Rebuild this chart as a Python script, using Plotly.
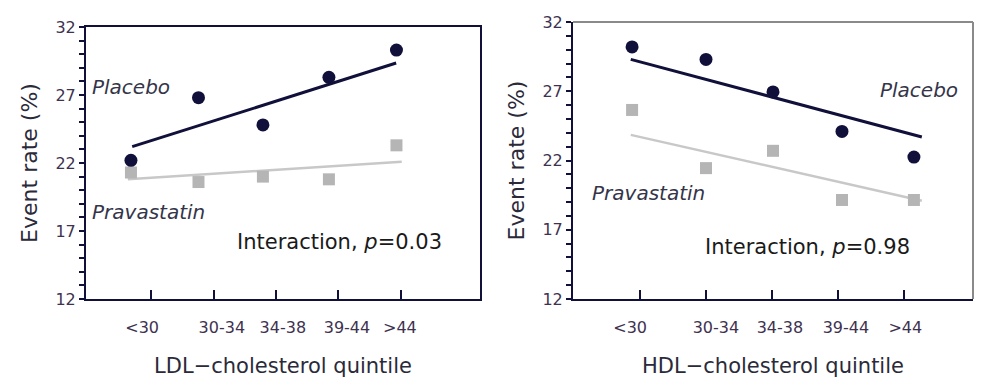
import plotly.graph_objects as go

# ---------------- data ----------------
quintiles = ["<30", "30-34", "34-38", "39-44", ">44"]
quintile_ticks = [1, 2, 3, 4, 5]

# LDL panel
ldl_x = [0.67, 1.755, 2.79, 3.85, 4.935]
ldl_placebo = [22.2, 26.8, 24.8, 28.3, 30.3]
ldl_prava = [21.3, 20.6, 21.0, 20.8, 23.3]
ldl_placebo_fit_x = [0.69, 4.93]
ldl_placebo_fit_y = [23.2, 29.35]
ldl_prava_fit_x = [0.62, 5.02]
ldl_prava_fit_y = [20.8, 22.1]
ldl_label_x = [0.85, 2.13, 3.11, 4.14, 4.99]

# HDL panel
hdl_x = [0.88, 2.0, 3.015, 4.06, 5.15]
hdl_placebo = [30.2, 29.3, 26.95, 24.1, 22.25]
hdl_prava = [25.65, 21.45, 22.7, 19.15, 19.15]
hdl_fit_x = [0.86, 5.27]
hdl_placebo_fit_y = [29.3, 23.7]
hdl_prava_fit_y = [23.85, 19.1]
hdl_label_x = [0.85, 2.15, 3.12, 4.12, 5.02]

y_ticks = [12, 17, 22, 27, 32]

# ---------------- style ----------------
NAVY = "#10103a"
GRAY_MARK = "#b5b5b5"
GRAY_LINE = "#c8c8c8"
TEXT = "#2a2a3a"
TICKTXT = "#3e3250"
FONT = "DejaVu Sans"
W, H = 997, 391

def px(x):
    return x / W

def py(y):
    return 1 - y / H

fig = go.Figure()

# LDL traces
fig.add_trace(go.Scatter(x=ldl_placebo_fit_x, y=ldl_placebo_fit_y, mode="lines",
                         line=dict(color=NAVY, width=3), xaxis="x", yaxis="y", showlegend=False))
fig.add_trace(go.Scatter(x=ldl_prava_fit_x, y=ldl_prava_fit_y, mode="lines",
                         line=dict(color=GRAY_LINE, width=2.5), xaxis="x", yaxis="y", showlegend=False))
fig.add_trace(go.Scatter(x=ldl_x, y=ldl_prava, mode="markers",
                         marker=dict(symbol="square", size=12, color=GRAY_MARK),
                         xaxis="x", yaxis="y", name="Pravastatin", showlegend=False))
fig.add_trace(go.Scatter(x=ldl_x, y=ldl_placebo, mode="markers",
                         marker=dict(symbol="circle", size=13, color=NAVY),
                         xaxis="x", yaxis="y", name="Placebo", showlegend=False))

# HDL traces
fig.add_trace(go.Scatter(x=hdl_fit_x, y=hdl_placebo_fit_y, mode="lines",
                         line=dict(color=NAVY, width=3), xaxis="x2", yaxis="y2", showlegend=False))
fig.add_trace(go.Scatter(x=hdl_fit_x, y=hdl_prava_fit_y, mode="lines",
                         line=dict(color=GRAY_LINE, width=2.5), xaxis="x2", yaxis="y2", showlegend=False))
fig.add_trace(go.Scatter(x=hdl_x, y=hdl_prava, mode="markers",
                         marker=dict(symbol="square", size=12, color=GRAY_MARK),
                         xaxis="x2", yaxis="y2", name="Pravastatin", showlegend=False))
fig.add_trace(go.Scatter(x=hdl_x, y=hdl_placebo, mode="markers",
                         marker=dict(symbol="circle", size=13, color=NAVY),
                         xaxis="x2", yaxis="y2", name="Placebo", showlegend=False))

# invisible carriers so the label axes get drawn
fig.add_trace(go.Scatter(x=ldl_label_x, y=[None] * 5, mode="markers", marker=dict(opacity=0),
                         xaxis="x3", yaxis="y", hoverinfo="skip", showlegend=False))
fig.add_trace(go.Scatter(x=hdl_label_x, y=[None] * 5, mode="markers", marker=dict(opacity=0),
                         xaxis="x4", yaxis="y2", hoverinfo="skip", showlegend=False))

L_DOM = [px(86), px(480)]
R_DOM = [px(573), px(973)]
L_Y = [py(299), py(27)]
R_Y = [py(299), py(22)]
L_RANGE = [-0.052, 6.277]
R_RANGE = [-0.015, 6.045]

def xaxis_ticks(domain, rng, anchor, mirror):
    return dict(domain=domain, range=rng, anchor=anchor, showgrid=False, zeroline=False,
                showline=True, linecolor=NAVY, linewidth=2, mirror=mirror,
                tickmode="array", tickvals=quintile_ticks, ticktext=["" for _ in quintile_ticks],
                ticks="inside", ticklen=9, tickwidth=2, tickcolor=NAVY, fixedrange=True)

def xaxis_labels(domain, rng, anchor, overlay, labels_x, title):
    return dict(domain=domain, range=rng, anchor=anchor, overlaying=overlay, side="bottom",
                showgrid=False, zeroline=False, showline=False, tickmode="array", tickvals=labels_x,
                ticktext=quintiles, ticks="", ticklabelstandoff=17,
                tickfont=dict(family=FONT, size=16, color=TICKTXT),
                title=dict(text=title, font=dict(family=FONT, size=21, color=TEXT), standoff=22),
                fixedrange=True)

def yaxis(domain, anchor, mirror):
    return dict(domain=domain, range=[12, 32], anchor=anchor, showgrid=False, zeroline=False,
                showline=True, linecolor=NAVY, linewidth=2, mirror=mirror,
                tickmode="array", tickvals=y_ticks, ticks="outside", ticklen=5, tickwidth=2,
                tickcolor=NAVY, tickfont=dict(family=FONT, size=16, color=TICKTXT),
                minor=dict(dtick=1, tick0=12, ticks="outside", ticklen=5, tickwidth=2, tickcolor=NAVY),
                title=dict(text="Event rate (%)", font=dict(family=FONT, size=22, color=TEXT), standoff=12),
                fixedrange=True)

fig.update_layout(
    width=W, height=H,
    margin=dict(l=0, r=0, t=0, b=0, autoexpand=False),
    paper_bgcolor="white", plot_bgcolor="white",
    showlegend=False,
    xaxis=xaxis_ticks(L_DOM, L_RANGE, "y", True),
    yaxis=yaxis(L_Y, "x", True),
    xaxis2=xaxis_ticks(R_DOM, R_RANGE, "y2", False),
    yaxis2=yaxis(R_Y, "x2", False),
    xaxis3=xaxis_labels(L_DOM, L_RANGE, "y", "x", ldl_label_x, "LDL\u2212cholesterol quintile"),
    xaxis4=xaxis_labels(R_DOM, R_RANGE, "y2", "x2", hdl_label_x, "HDL\u2212cholesterol quintile"),
)

# gray top/right border on right panel
fig.add_shape(type="line", xref="paper", yref="paper", x0=R_DOM[0], x1=R_DOM[1], y0=R_Y[1], y1=R_Y[1],
              line=dict(color="#8a8a8a", width=2))
fig.add_shape(type="line", xref="paper", yref="paper", x0=R_DOM[1], x1=R_DOM[1], y0=R_Y[0], y1=R_Y[1],
              line=dict(color="#8a8a8a", width=2))

def note(text, x, y, size=20, italic=False, color=TEXT):
    fig.add_annotation(text=text, x=px(x), y=py(y), xref="paper", yref="paper",
                       xanchor="left", yanchor="middle", showarrow=False,
                       font=dict(family=FONT, size=size, color=color,
                                 style="italic" if italic else "normal"))

note("Placebo", 90, 87, size=20, italic=True, color="#35354a")
note("Pravastatin", 90, 212, size=20, italic=True, color="#35354a")
note("Interaction, <i>p</i>=0.03", 235, 242, size=21, color="#1a1a1a")
note("Placebo", 878, 90, size=20, italic=True, color="#35354a")
note("Pravastatin", 590, 193, size=20, italic=True, color="#35354a")
note("Interaction, <i>p</i>=0.98", 703, 247, size=21, color="#1a1a1a")

fig.write_html("out.html", config={"displayModeBar": False},
               post_script="document.body.style.margin='0';document.body.style.overflow='hidden';")
